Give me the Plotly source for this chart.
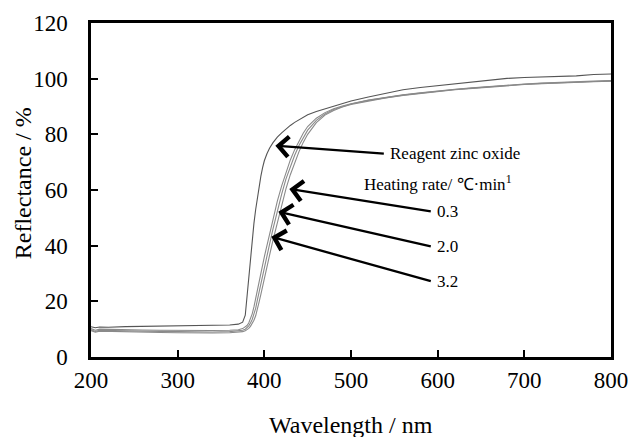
import plotly.graph_objects as go

wavelength = [200, 205, 210, 220, 240, 260, 280, 300, 320, 340, 360, 370, 375, 378, 380, 382, 384, 386, 388, 390,
              392, 394, 396, 398, 400, 403, 406, 410, 415, 420, 425, 430, 435, 440, 445, 450, 460, 470, 480, 490,
              500, 520, 540, 560, 580, 600, 620, 640, 660, 680, 700, 720, 740, 760, 780, 800]

reagent = [10.9, 10.5, 10.8, 10.7, 10.9, 11.0, 11.1, 11.2, 11.2, 11.3, 11.5, 11.8, 12.5, 15.0, 22.0, 29.0, 36.0, 42.0, 48.0, 53.0,
           57.5, 61.5, 65.0, 68.0, 70.5, 73.0, 75.0, 77.0, 79.0, 80.5, 82.0, 83.2, 84.3, 85.2, 86.2, 87.0, 88.2, 89.2, 90.2, 91.2,
           92.0, 93.4, 94.6, 96.0, 96.8, 97.5, 98.2, 98.8, 99.5, 100.1, 100.4, 100.6, 100.9, 101.0, 101.5, 101.7]

rate_03 = [9.5, 8.9, 9.3, 9.2, 9.0, 8.9, 8.8, 8.7, 8.6, 8.6, 8.7, 8.9, 9.1, 9.4, 9.8, 10.3, 11.0, 11.9, 13.2, 14.8,
           17.0, 19.8, 22.5, 25.5, 28.5, 32.5, 36.5, 42.0, 48.5, 55.0, 60.5, 65.5, 70.0, 73.8, 77.2, 80.0, 84.2, 86.9, 88.6, 89.8,
           90.7, 92.0, 93.1, 94.0, 94.7, 95.4, 96.0, 96.5, 97.0, 97.5, 97.9, 98.2, 98.5, 98.7, 98.9, 99.1]

rate_20 = [9.8, 9.2, 9.6, 9.5, 9.4, 9.3, 9.2, 9.1, 9.0, 9.0, 9.1, 9.3, 9.6, 10.0, 10.5, 11.2, 12.2, 13.5, 15.5, 17.5,
           20.5, 23.5, 26.5, 29.5, 32.5, 36.5, 40.5, 46.0, 52.5, 58.5, 64.0, 68.5, 72.5, 76.0, 79.0, 81.5, 85.0, 87.3, 88.9, 90.0,
           90.9, 92.2, 93.2, 94.1, 94.8, 95.5, 96.1, 96.6, 97.1, 97.6, 98.0, 98.3, 98.6, 98.8, 99.0, 99.2]

rate_32 = [10.2, 9.6, 10.0, 9.9, 9.8, 9.7, 9.6, 9.5, 9.5, 9.5, 9.6, 9.8, 10.2, 10.7, 11.3, 12.2, 13.6, 15.5, 18.0, 20.8,
           24.0, 27.0, 30.0, 33.0, 36.0, 40.0, 44.0, 49.5, 56.0, 61.5, 66.5, 70.8, 74.5, 77.8, 80.5, 82.8, 85.8, 87.8, 89.2, 90.2,
           91.0, 92.3, 93.3, 94.2, 94.9, 95.6, 96.2, 96.7, 97.2, 97.7, 98.1, 98.4, 98.7, 98.9, 99.1, 99.3]

series_names = ["Reagent zinc oxide", "0.3", "2.0", "3.2"]
series_values = [reagent, rate_03, rate_20, rate_32]
series_colors = ["#555555", "#8a8a8a", "#8a8a8a", "#8a8a8a"]

# arrow labels: (text, tip x, tip y, tail x, tail y)
arrow_labels = [
    ("Reagent zinc oxide", 412.7, 75.9, 539.6, 73.0),
    ("0.3", 428.8, 60.4, 593.8, 52.2),
    ("2.0", 416.1, 52.2, 593.8, 39.6),
    ("3.2", 408.0, 43.2, 593.8, 27.1),
]
heading_text = "Heating rate/ ℃·min<sup>1</sup>"
heading_pos = (513, 62.6)

x_title = "Wavelength / nm"
y_title = "Reflectance / %"

FONT = "Liberation Serif"

fig = go.Figure()
for name, vals, col in zip(series_names, series_values, series_colors):
    fig.add_trace(go.Scatter(x=wavelength, y=vals, mode="lines", name=name,
                             line=dict(color=col, width=1.1), showlegend=False))

for text, tx, ty, sx, sy in arrow_labels:
    fig.add_annotation(x=tx, y=ty, ax=sx, ay=sy, xref="x", yref="y", axref="x", ayref="y",
                       text="", showarrow=True, arrowhead=4, arrowsize=1.7, arrowwidth=2.3,
                       arrowcolor="black")
    fig.add_annotation(x=sx, y=sy, xref="x", yref="y", text=text, showarrow=False,
                       xanchor="left", yanchor="middle", xshift=3,
                       font=dict(family=FONT, size=17, color="black"))

fig.add_annotation(x=heading_pos[0], y=heading_pos[1], xref="x", yref="y", text=heading_text,
                   showarrow=False, xanchor="left", yanchor="middle",
                   font=dict(family=FONT, size=17, color="black"))

# axis titles as annotations (paper coords: plot spans x 91..611 px, y 23..357 px)
fig.add_annotation(x=0.5, y=-0.203, xref="paper", yref="paper", text=x_title, showarrow=False,
                   xanchor="center", yanchor="middle", font=dict(family=FONT, size=24, color="black"))
fig.add_annotation(x=-0.131, y=0.52, xref="paper", yref="paper", text=y_title, showarrow=False,
                   textangle=-90, xanchor="center", yanchor="middle",
                   font=dict(family=FONT, size=24, color="black"))

axis_common = dict(showline=True, linecolor="black", linewidth=2.5, mirror=True,
                   ticks="inside", ticklen=7, tickwidth=1.5, tickcolor="black",
                   showgrid=False, zeroline=False, automargin=False,
                   tickfont=dict(family=FONT, size=23, color="black"))

fig.update_xaxes(range=[200, 800], dtick=100, tick0=200, ticklabelstandoff=1, **axis_common)
fig.update_yaxes(range=[0, 120], dtick=20, tick0=0, ticklabelstandoff=16, **axis_common)

fig.update_layout(width=629, height=437, margin=dict(l=91, r=18, t=23, b=80),
                  plot_bgcolor="white", paper_bgcolor="white",
                  font=dict(family=FONT, color="black"))

fig.write_html("out.html", config={"displayModeBar": False},
               post_script="document.body.style.margin='0';document.body.style.overflow='hidden';")
